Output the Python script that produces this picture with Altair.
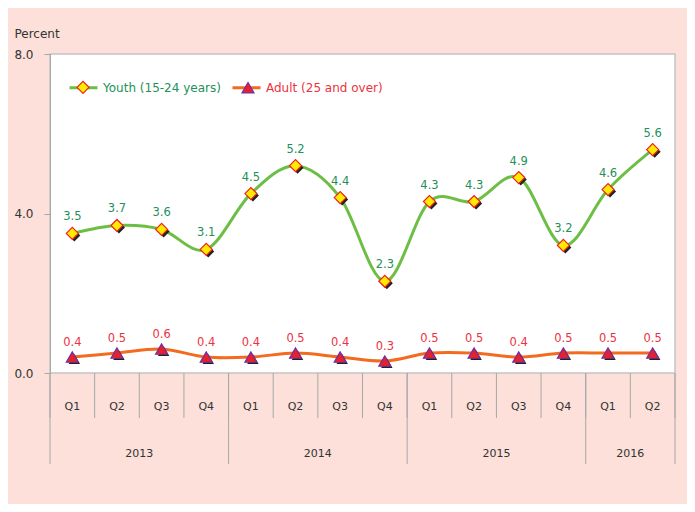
import altair as alt
import pandas as pd

quarters = ["Q1", "Q2", "Q3", "Q4", "Q1", "Q2", "Q3", "Q4", "Q1", "Q2", "Q3", "Q4", "Q1", "Q2"]
years = ["2013"] * 4 + ["2014"] * 4 + ["2015"] * 4 + ["2016"] * 2
youth = [3.5, 3.7, 3.6, 3.1, 4.5, 5.2, 4.4, 2.3, 4.3, 4.3, 4.9, 3.2, 4.6, 5.6]
adult = [0.4, 0.5, 0.6, 0.4, 0.4, 0.5, 0.4, 0.3, 0.5, 0.5, 0.4, 0.5, 0.5, 0.5]
series_names = ["Youth (15-24 years)", "Adult (25 and over)"]
y_ticks = [0, 4, 8]

FONT = "DejaVu Sans"
GREEN_LINE = "#6DBE45"
ORANGE_LINE = "#F26B21"
GREEN_TEXT = "#23905A"
RED_TEXT = "#EE3140"
AXIS_GRAY = "#A8A8A8"
TEXT_DARK = "#333333"
BG = "#FCE0D9"
FILLS = ["#FFEB00", "#E8202C"]
STROKES = ["#EE2020", "#7030A0"]

rows = []
for i, (q, yr) in enumerate(zip(quarters, years)):
    for name, vals in zip(series_names, [youth, adult]):
        rows.append(dict(idx=i, quarter=q, year=yr, series=name,
                         series_line=name, value=vals[i],
                         label=f"{vals[i]:.1f}"))
df = pd.DataFrame(rows)

qdf = pd.DataFrame({"idx": list(range(len(quarters))), "quarter": quarters})
year_order = list(dict.fromkeys(years))
ydf = pd.DataFrame({
    "year": year_order,
    "center": [sum(i for i, y in enumerate(years) if y == yr) / years.count(yr) for yr in year_order],
})
qb = pd.DataFrame({"b": [i - 0.5 for i in range(len(quarters) + 1)]})
yb_vals = [-0.5] + [i - 0.5 for i in range(1, len(years)) if years[i] != years[i - 1]] + [len(years) - 0.5]
yb = pd.DataFrame({"b": yb_vals})

H = 319
xscale = alt.Scale(domain=[-0.5, len(quarters) - 0.5], nice=False, zero=False)
x_enc = alt.X("idx:Q", scale=xscale, axis=None)
y_enc = alt.Y("value:Q", scale=alt.Scale(domain=[0, 8], nice=False),
              axis=alt.Axis(values=y_ticks, format=".1f", title="Percent", grid=False,
                            tickSize=6, tickColor=AXIS_GRAY, domainColor=AXIS_GRAY,
                            labelFont=FONT, labelFontSize=12, labelColor=TEXT_DARK,
                            labelPadding=11, titleAngle=0, titleAlign="left",
                            titleBaseline="alphabetic", titleX=-36, titleY=-17,
                            titleFont=FONT, titleFontSize=12, titleFontWeight="normal",
                            titleColor=TEXT_DARK))


def pick(a, b):
    return alt.ExprRef(expr=f"datum.value == '{series_names[0]}' ? '{a}' : '{b}'")


LEG_FS = 12
line = alt.Chart(df).mark_line(interpolate="cardinal", strokeWidth=3).encode(
    x=x_enc, y=y_enc,
    color=alt.Color("series_line:N", sort=series_names,
                    scale=alt.Scale(range=[GREEN_LINE, ORANGE_LINE]),
                    legend=alt.Legend(title=None, orient="none", direction="horizontal",
                                      legendX=18, legendY=18, padding=0,
                                      symbolType="stroke", symbolSize=784,
                                      symbolStrokeWidth=3, labelOffset=4,
                                      columnPadding=5, labelFont=FONT, labelFontSize=LEG_FS,
                                      labelColor=pick(GREEN_TEXT, RED_TEXT), labelLimit=300)),
)

shadow_y = alt.Chart(df).transform_filter(alt.datum.series == series_names[0]).mark_point(
    shape="diamond", filled=True, color="#222222", size=144, opacity=1, xOffset=2, yOffset=2
).encode(x=x_enc, y="value:Q")
shadow_a = alt.Chart(df).transform_filter(alt.datum.series == series_names[1]).mark_point(
    shape="triangle-up", filled=True, color="#222222", size=130, opacity=1, xOffset=2, yOffset=2
).encode(x=x_enc, y="value:Q")

pt_legend = alt.Legend(title=None, orient="none", direction="horizontal",
                       legendX=18, legendY=26, padding=0, symbolSize=144,
                       symbolOffset=8, labelOffset=20, columnPadding=123,
                       labelFont=FONT, labelFontSize=LEG_FS, symbolStrokeWidth=1.2,
                       symbolFillColor=pick(FILLS[0], FILLS[1]),
                       symbolStrokeColor=pick(STROKES[0], STROKES[1]),
                       labelExpr="''", labelLimit=300)

points = alt.Chart(df).mark_point(filled=True, size=144, opacity=1, strokeWidth=1.2).encode(
    x=x_enc, y="value:Q",
    fill=alt.Fill("series:N", sort=series_names, scale=alt.Scale(range=FILLS), legend=None),
    stroke=alt.Stroke("series:N", sort=series_names, scale=alt.Scale(range=STROKES), legend=None),
    shape=alt.Shape("series:N", sort=series_names, scale=alt.Scale(range=["diamond", "triangle-up"]),
                    legend=pt_legend),
)

lab_y = alt.Chart(df).transform_filter(alt.datum.series == series_names[0]).mark_text(
    dy=-16, font=FONT, fontSize=11.5, color=GREEN_TEXT
).encode(x=x_enc, y="value:Q", text="label:N")
lab_a = alt.Chart(df).transform_filter(alt.datum.series == series_names[1]).mark_text(
    dy=-14, font=FONT, fontSize=11.5, color=RED_TEXT
).encode(x=x_enc, y="value:Q", text="label:N")

qlab = alt.Chart(qdf).mark_text(font=FONT, fontSize=11, color=TEXT_DARK, baseline="middle").encode(
    x=x_enc, y=alt.value(H + 34), text="quarter:N")
ylab = alt.Chart(ydf).mark_text(font=FONT, fontSize=11, color=TEXT_DARK, baseline="middle").encode(
    x=alt.X("center:Q", scale=xscale, axis=None), y=alt.value(H + 81), text="year:N")
qrule = alt.Chart(qb).mark_rule(color=AXIS_GRAY, strokeWidth=1).encode(
    x=alt.X("b:Q", scale=xscale, axis=None), y=alt.value(H), y2=alt.value(H + 45))
yrule = alt.Chart(yb).mark_rule(color=AXIS_GRAY, strokeWidth=1).encode(
    x=alt.X("b:Q", scale=xscale, axis=None), y=alt.value(H), y2=alt.value(H + 91))

chart = alt.layer(line, shadow_y, shadow_a, points, lab_y, lab_a, qlab, ylab, qrule, yrule).properties(
    width=625, height=H,
    background=BG,
    padding={"left": 42, "top": 46, "right": 12, "bottom": 131},
    autosize=alt.AutoSizeParams(type="none"),
).configure_view(fill="white", stroke="#C4C4C4", strokeWidth=1.5)

chart.save("out.html", embed_options={"renderer": "svg", "actions": False})
